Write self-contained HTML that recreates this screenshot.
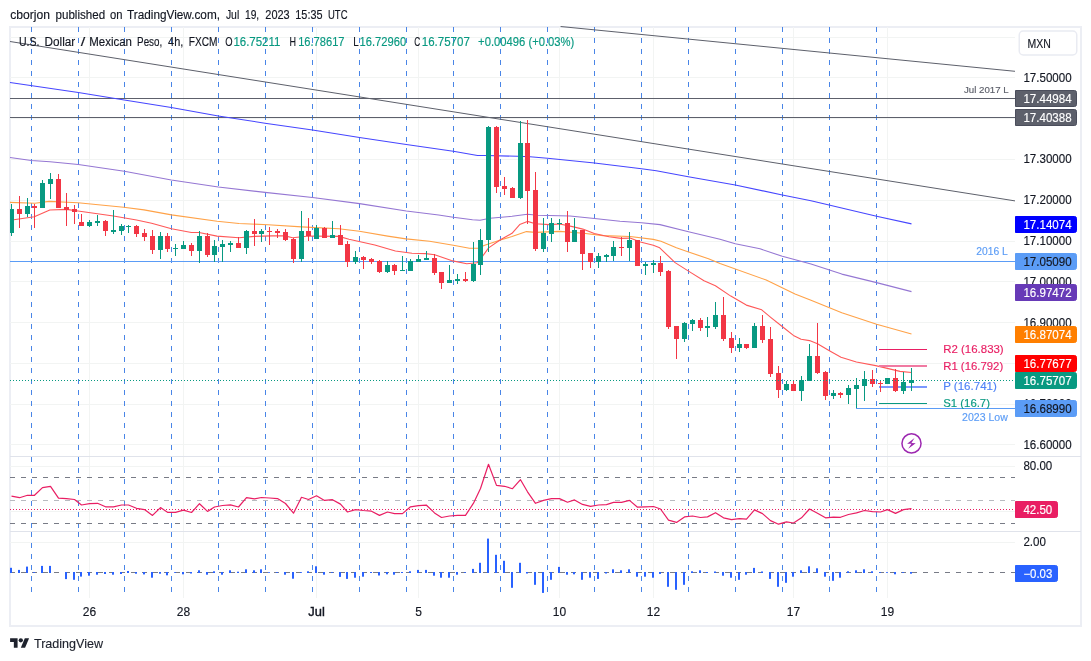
<!DOCTYPE html>
<html lang="en"><head><meta charset="utf-8"><title>USDMXN 4h chart</title>
<style>html,body{margin:0;padding:0;background:#fff}svg{display:block}</style></head>
<body>
<svg width="1091" height="661" viewBox="0 0 1091 661" font-family="'Liberation Sans', Arial, sans-serif">
<rect width="1091" height="661" fill="#ffffff"/>
<rect x="10" y="27" width="1071" height="599" fill="none" stroke="#eceef4" stroke-width="2" shape-rendering="crispEdges"/>
<g stroke="#f2f4f3" stroke-width="1" shape-rendering="crispEdges">
<line x1="10" y1="37.5" x2="1015" y2="37.5"/>
<line x1="10" y1="77.5" x2="1015" y2="77.5"/>
<line x1="10" y1="118.5" x2="1015" y2="118.5"/>
<line x1="10" y1="159.5" x2="1015" y2="159.5"/>
<line x1="10" y1="200.5" x2="1015" y2="200.5"/>
<line x1="10" y1="241.5" x2="1015" y2="241.5"/>
<line x1="10" y1="281.5" x2="1015" y2="281.5"/>
<line x1="10" y1="322.5" x2="1015" y2="322.5"/>
<line x1="10" y1="363.5" x2="1015" y2="363.5"/>
<line x1="10" y1="404.5" x2="1015" y2="404.5"/>
<line x1="10" y1="444.5" x2="1015" y2="444.5"/>
<line x1="10" y1="466.5" x2="1015" y2="466.5"/>
<line x1="10" y1="511.5" x2="1015" y2="511.5"/>
<line x1="10" y1="542.5" x2="1015" y2="542.5"/>
<line x1="89.5" y1="27" x2="89.5" y2="597.5"/>
<line x1="183.5" y1="27" x2="183.5" y2="597.5"/>
<line x1="316.5" y1="27" x2="316.5" y2="597.5"/>
<line x1="418.5" y1="27" x2="418.5" y2="597.5"/>
<line x1="559.5" y1="27" x2="559.5" y2="597.5"/>
<line x1="653.5" y1="27" x2="653.5" y2="597.5"/>
<line x1="793.5" y1="27" x2="793.5" y2="597.5"/>
<line x1="887.5" y1="27" x2="887.5" y2="597.5"/>
</g>
<g stroke="#4985e7" stroke-width="1" stroke-dasharray="5 6" shape-rendering="crispEdges">
<line x1="31.5" y1="27" x2="31.5" y2="456"/>
<line x1="31.5" y1="457" x2="31.5" y2="531"/>
<line x1="31.5" y1="532" x2="31.5" y2="592"/>
<line x1="78.5" y1="27" x2="78.5" y2="456"/>
<line x1="78.5" y1="457" x2="78.5" y2="531"/>
<line x1="78.5" y1="532" x2="78.5" y2="592"/>
<line x1="124.5" y1="27" x2="124.5" y2="456"/>
<line x1="124.5" y1="457" x2="124.5" y2="531"/>
<line x1="124.5" y1="532" x2="124.5" y2="592"/>
<line x1="171.5" y1="27" x2="171.5" y2="456"/>
<line x1="171.5" y1="457" x2="171.5" y2="531"/>
<line x1="171.5" y1="532" x2="171.5" y2="592"/>
<line x1="218.5" y1="27" x2="218.5" y2="456"/>
<line x1="218.5" y1="457" x2="218.5" y2="531"/>
<line x1="218.5" y1="532" x2="218.5" y2="592"/>
<line x1="265.5" y1="27" x2="265.5" y2="456"/>
<line x1="265.5" y1="457" x2="265.5" y2="531"/>
<line x1="265.5" y1="532" x2="265.5" y2="592"/>
<line x1="312.5" y1="27" x2="312.5" y2="456"/>
<line x1="312.5" y1="457" x2="312.5" y2="531"/>
<line x1="312.5" y1="532" x2="312.5" y2="592"/>
<line x1="359.5" y1="27" x2="359.5" y2="456"/>
<line x1="359.5" y1="457" x2="359.5" y2="531"/>
<line x1="359.5" y1="532" x2="359.5" y2="592"/>
<line x1="406.5" y1="27" x2="406.5" y2="456"/>
<line x1="406.5" y1="457" x2="406.5" y2="531"/>
<line x1="406.5" y1="532" x2="406.5" y2="592"/>
<line x1="453.5" y1="27" x2="453.5" y2="456"/>
<line x1="453.5" y1="457" x2="453.5" y2="531"/>
<line x1="453.5" y1="532" x2="453.5" y2="592"/>
<line x1="500.5" y1="27" x2="500.5" y2="456"/>
<line x1="500.5" y1="457" x2="500.5" y2="531"/>
<line x1="500.5" y1="532" x2="500.5" y2="592"/>
<line x1="547.5" y1="27" x2="547.5" y2="456"/>
<line x1="547.5" y1="457" x2="547.5" y2="531"/>
<line x1="547.5" y1="532" x2="547.5" y2="592"/>
<line x1="594.5" y1="27" x2="594.5" y2="456"/>
<line x1="594.5" y1="457" x2="594.5" y2="531"/>
<line x1="594.5" y1="532" x2="594.5" y2="592"/>
<line x1="641.5" y1="27" x2="641.5" y2="456"/>
<line x1="641.5" y1="457" x2="641.5" y2="531"/>
<line x1="641.5" y1="532" x2="641.5" y2="592"/>
<line x1="688.5" y1="27" x2="688.5" y2="456"/>
<line x1="688.5" y1="457" x2="688.5" y2="531"/>
<line x1="688.5" y1="532" x2="688.5" y2="592"/>
<line x1="735.5" y1="27" x2="735.5" y2="456"/>
<line x1="735.5" y1="457" x2="735.5" y2="531"/>
<line x1="735.5" y1="532" x2="735.5" y2="592"/>
<line x1="782.5" y1="27" x2="782.5" y2="456"/>
<line x1="782.5" y1="457" x2="782.5" y2="531"/>
<line x1="782.5" y1="532" x2="782.5" y2="592"/>
<line x1="829.5" y1="27" x2="829.5" y2="456"/>
<line x1="829.5" y1="457" x2="829.5" y2="531"/>
<line x1="829.5" y1="532" x2="829.5" y2="592"/>
<line x1="876.5" y1="27" x2="876.5" y2="456"/>
<line x1="876.5" y1="457" x2="876.5" y2="531"/>
<line x1="876.5" y1="532" x2="876.5" y2="592"/>
</g>
<g stroke="#e0e3eb" stroke-width="1" shape-rendering="crispEdges">
<line x1="10" y1="456.5" x2="1081" y2="456.5"/>
<line x1="10" y1="531.5" x2="1081" y2="531.5"/>
</g>
<g fill="none" stroke-width="1">
<line x1="10" y1="98.5" x2="1015" y2="98.5" stroke="#5d606b" shape-rendering="crispEdges"/>
<line x1="10" y1="117.5" x2="1015" y2="117.5" stroke="#5d606b" shape-rendering="crispEdges"/>
<line x1="10" y1="261.5" x2="1015" y2="261.5" stroke="#5b9cf6" shape-rendering="crispEdges"/>
<line x1="855.5" y1="408.5" x2="1015" y2="408.5" stroke="#5b9cf6" shape-rendering="crispEdges"/>
<line x1="10" y1="41.5" x2="1015" y2="200.9" stroke="#5d606b"/>
<line x1="560.6" y1="26.5" x2="1015" y2="71.3" stroke="#5d606b"/>
</g>
<polyline points="10,82.5 78.3,92.5 124.3,100 171.3,107.5 218.3,116 265,123.2 312.5,130 359.5,137.5 406.3,144.5 453.3,151.3 477.5,155.5 486.3,155.5 517.5,156.3 530,156.8 547.5,158.3 594.5,163 641.5,168.8 656.3,170.8 688.3,176.8 735.3,185 782.3,195 811,200.8 876.6,216.3 911.5,223.9" fill="none" stroke="#4646ff" stroke-width="1.1" stroke-opacity="1" stroke-linejoin="round"/>
<polyline points="10,157.5 31.3,160.5 50,161.8 78.3,164.5 124.3,171.3 171.3,180 218.3,187 265,192.4 312.5,197.5 359.5,203.6 406.3,211 438.6,215 453.3,217.3 472.5,219.8 480,220.2 490,218.2 512.1,216.3 527.4,214.3 537.8,215.2 570,216 594.5,218.5 620,221.2 641.5,222.7 660,224.6 688.5,231.8 720,239.2 735.3,243.8 760,248.8 782.3,256.3 811,264 841.8,274.1 876.6,282.6 911.5,291.6" fill="none" stroke="#9577d3" stroke-width="1.1" stroke-opacity="1" stroke-linejoin="round"/>
<polyline points="10,202.4 35,203.3 49.1,201.4 78,202.7 123.7,207.2 144,209.9 171.5,214.9 217.1,221.3 239,223.5 268,224.8 301.6,226.9 338.8,228.7 359.4,231.2 387.7,236.1 406,238.9 429.6,241.3 453.3,245.2 469.4,248.2 478.4,248.2 484,245.5 500.4,240.1 512,236.5 526.5,231.6 535.5,232.4 559.7,231.4 583.5,233.2 603,235.6 630.1,236.5 653.3,239.4 661,241.3 676.4,247.8 689.3,252.3 708.5,258.7 720,263.6 766.2,280 795,294.1 811,300.3 841.8,312.7 876.6,324.2 911.5,334" fill="none" stroke="#ffa248" stroke-width="1.1" stroke-opacity="1" stroke-linejoin="round"/>
<polyline points="10,220.2 13.8,219.7 34.3,216.8 49.8,210 66.5,209.4 78,211 113.4,216 136.5,220 151.6,223.3 171.5,228.7 191.4,232.5 199,232.5 217,236.1 239,237.7 254.4,236.4 272,235.9 284.9,235.9 292.6,237.7 309,236 338.8,236.4 349,239.3 374.8,245 395.4,251 412,253.3 425.7,253.6 434.7,254.8 451.4,260.6 466.8,263.8 477,262.8 482.4,256.5 488.6,247.9 500.4,239.7 512,233.3 519.7,224.6 527.4,221.4 535.5,223.8 549.4,224.6 559.7,224 572.5,226.6 582.8,229.1 594.3,233.5 609,236.8 621,238.4 630.1,238.1 640.4,242 653.3,245.2 659.7,247.8 675.1,262.6 689.3,271.6 704,280.8 715.4,285.8 730.8,296.1 746.3,305.1 761.7,309.8 770.7,317.3 782.5,326.7 793.4,335.4 801.1,339.3 809.5,340.6 817.5,343.8 829.4,350.8 841,357.3 856.4,362 875.7,365.6 900,371.4 911.5,372.5" fill="none" stroke="#ff5858" stroke-width="1.1" stroke-opacity="1" stroke-linejoin="round"/>
<g shape-rendering="crispEdges">
<rect x="879" y="349" width="48" height="1" fill="#e91e63"/>
<rect x="879" y="365" width="48" height="2" fill="#f07aa2"/>
<rect x="879" y="386" width="48" height="2" fill="#7b98ff"/>
<rect x="879" y="403" width="48" height="1" fill="#089981"/>
</g>
<g shape-rendering="crispEdges">
<rect x="11.0" y="204" width="1" height="32" fill="#089981"/>
<rect x="10" y="209" width="4.0" height="24" fill="#089981"/>
<rect x="19.0" y="196" width="1" height="32" fill="#f23645"/>
<rect x="17.0" y="209" width="5" height="5" fill="#f23645"/>
<rect x="27.0" y="198" width="1" height="19" fill="#089981"/>
<rect x="25.0" y="206" width="5" height="8" fill="#089981"/>
<rect x="34.0" y="204" width="1" height="24" fill="#f23645"/>
<rect x="32.0" y="206" width="5" height="2" fill="#f23645"/>
<rect x="42.0" y="180" width="1" height="28" fill="#089981"/>
<rect x="40.0" y="183" width="5" height="25" fill="#089981"/>
<rect x="50.0" y="173" width="1" height="26" fill="#089981"/>
<rect x="48.0" y="179" width="5" height="5" fill="#089981"/>
<rect x="58.0" y="174" width="1" height="34" fill="#f23645"/>
<rect x="56.0" y="179" width="5" height="29" fill="#f23645"/>
<rect x="66.0" y="193" width="1" height="33" fill="#f23645"/>
<rect x="64.0" y="207" width="5" height="3" fill="#f23645"/>
<rect x="74.0" y="205" width="1" height="19" fill="#f23645"/>
<rect x="72.0" y="209" width="5" height="3" fill="#f23645"/>
<rect x="81.0" y="214" width="1" height="12" fill="#f23645"/>
<rect x="79.0" y="222" width="5" height="4" fill="#f23645"/>
<rect x="89.0" y="220" width="1" height="7" fill="#089981"/>
<rect x="87.0" y="222" width="5" height="4" fill="#089981"/>
<rect x="97.0" y="215" width="1" height="11" fill="#089981"/>
<rect x="95.0" y="221" width="5" height="2" fill="#089981"/>
<rect x="105.0" y="220" width="1" height="16" fill="#f23645"/>
<rect x="103.0" y="221" width="5" height="10" fill="#f23645"/>
<rect x="113.0" y="210" width="1" height="24" fill="#089981"/>
<rect x="111.0" y="230" width="5" height="2" fill="#089981"/>
<rect x="121.0" y="224" width="1" height="11" fill="#089981"/>
<rect x="119.0" y="226" width="5" height="5" fill="#089981"/>
<rect x="128.0" y="225" width="1" height="8" fill="#089981"/>
<rect x="126.0" y="226" width="5" height="1" fill="#089981"/>
<rect x="136.0" y="225" width="1" height="12" fill="#f23645"/>
<rect x="134.0" y="226" width="5" height="8" fill="#f23645"/>
<rect x="144.0" y="229" width="1" height="12" fill="#f23645"/>
<rect x="142.0" y="233" width="5" height="4" fill="#f23645"/>
<rect x="152.0" y="230" width="1" height="24" fill="#f23645"/>
<rect x="150.0" y="236" width="5" height="14" fill="#f23645"/>
<rect x="160.0" y="232" width="1" height="27" fill="#089981"/>
<rect x="158.0" y="236" width="5" height="14" fill="#089981"/>
<rect x="167.0" y="233" width="1" height="19" fill="#f23645"/>
<rect x="165.0" y="236" width="5" height="13" fill="#f23645"/>
<rect x="175.0" y="244" width="1" height="12" fill="#089981"/>
<rect x="173.0" y="248" width="5" height="1" fill="#089981"/>
<rect x="183.0" y="241" width="1" height="8" fill="#089981"/>
<rect x="181.0" y="245" width="5" height="4" fill="#089981"/>
<rect x="191.0" y="243" width="1" height="13" fill="#f23645"/>
<rect x="189.0" y="245" width="5" height="6" fill="#f23645"/>
<rect x="199.0" y="231" width="1" height="32" fill="#089981"/>
<rect x="197.0" y="236" width="5" height="15" fill="#089981"/>
<rect x="207.0" y="233" width="1" height="24" fill="#f23645"/>
<rect x="205.0" y="236" width="5" height="19" fill="#f23645"/>
<rect x="214.0" y="240" width="1" height="22" fill="#089981"/>
<rect x="212.0" y="246" width="5" height="9" fill="#089981"/>
<rect x="222.0" y="240" width="1" height="22" fill="#089981"/>
<rect x="220.0" y="244" width="5" height="3" fill="#089981"/>
<rect x="230.0" y="241" width="1" height="11" fill="#089981"/>
<rect x="228.0" y="243" width="5" height="2" fill="#089981"/>
<rect x="238.0" y="237" width="1" height="11" fill="#f23645"/>
<rect x="236.0" y="243" width="5" height="5" fill="#f23645"/>
<rect x="246.0" y="230" width="1" height="24" fill="#089981"/>
<rect x="244.0" y="231" width="5" height="17" fill="#089981"/>
<rect x="254.0" y="219" width="1" height="27" fill="#f23645"/>
<rect x="252.0" y="231" width="5" height="3" fill="#f23645"/>
<rect x="261.0" y="229" width="1" height="13" fill="#089981"/>
<rect x="259.0" y="231" width="5" height="3" fill="#089981"/>
<rect x="269.0" y="227" width="1" height="18" fill="#f23645"/>
<rect x="267.0" y="231" width="5" height="1" fill="#f23645"/>
<rect x="277.0" y="229" width="1" height="9" fill="#f23645"/>
<rect x="275.0" y="231" width="5" height="2" fill="#f23645"/>
<rect x="285.0" y="229" width="1" height="12" fill="#f23645"/>
<rect x="283.0" y="232" width="5" height="8" fill="#f23645"/>
<rect x="293.0" y="238" width="1" height="25" fill="#f23645"/>
<rect x="291.0" y="239" width="5" height="20" fill="#f23645"/>
<rect x="301.0" y="211" width="1" height="51" fill="#089981"/>
<rect x="299.0" y="231" width="5" height="28" fill="#089981"/>
<rect x="308.0" y="218" width="1" height="23" fill="#f23645"/>
<rect x="306.0" y="231" width="5" height="5" fill="#f23645"/>
<rect x="316.0" y="225" width="1" height="14" fill="#089981"/>
<rect x="314.0" y="228" width="5" height="11" fill="#089981"/>
<rect x="324.0" y="227" width="1" height="11" fill="#f23645"/>
<rect x="322.0" y="228" width="5" height="10" fill="#f23645"/>
<rect x="332.0" y="221" width="1" height="17" fill="#089981"/>
<rect x="330.0" y="235" width="5" height="3" fill="#089981"/>
<rect x="340.0" y="225" width="1" height="20" fill="#f23645"/>
<rect x="338.0" y="235" width="5" height="10" fill="#f23645"/>
<rect x="347.0" y="241" width="1" height="26" fill="#f23645"/>
<rect x="345.0" y="244" width="5" height="18" fill="#f23645"/>
<rect x="355.0" y="251" width="1" height="13" fill="#089981"/>
<rect x="353.0" y="257" width="5" height="5" fill="#089981"/>
<rect x="363.0" y="256" width="1" height="13" fill="#f23645"/>
<rect x="361.0" y="257" width="5" height="3" fill="#f23645"/>
<rect x="371.0" y="258" width="1" height="6" fill="#f23645"/>
<rect x="369.0" y="259" width="5" height="3" fill="#f23645"/>
<rect x="379.0" y="260" width="1" height="13" fill="#f23645"/>
<rect x="377.0" y="261" width="5" height="11" fill="#f23645"/>
<rect x="387.0" y="261" width="1" height="12" fill="#089981"/>
<rect x="385.0" y="265" width="5" height="7" fill="#089981"/>
<rect x="394.0" y="264" width="1" height="11" fill="#f23645"/>
<rect x="392.0" y="265" width="5" height="6" fill="#f23645"/>
<rect x="402.0" y="256" width="1" height="15" fill="#089981"/>
<rect x="400.0" y="270" width="5" height="1" fill="#089981"/>
<rect x="410.0" y="259" width="1" height="12" fill="#089981"/>
<rect x="408.0" y="261" width="5" height="10" fill="#089981"/>
<rect x="418.0" y="255" width="1" height="7" fill="#089981"/>
<rect x="416.0" y="259" width="5" height="3" fill="#089981"/>
<rect x="426.0" y="251" width="1" height="9" fill="#089981"/>
<rect x="424.0" y="258" width="5" height="2" fill="#089981"/>
<rect x="434.0" y="254" width="1" height="21" fill="#f23645"/>
<rect x="432.0" y="258" width="5" height="15" fill="#f23645"/>
<rect x="441.0" y="272" width="1" height="17" fill="#f23645"/>
<rect x="439.0" y="272" width="5" height="11" fill="#f23645"/>
<rect x="449.0" y="265" width="1" height="18" fill="#089981"/>
<rect x="447.0" y="280" width="5" height="3" fill="#089981"/>
<rect x="457.0" y="274" width="1" height="10" fill="#089981"/>
<rect x="455.0" y="279" width="5" height="2" fill="#089981"/>
<rect x="465.0" y="272" width="1" height="10" fill="#f23645"/>
<rect x="463.0" y="279" width="5" height="2" fill="#f23645"/>
<rect x="473.0" y="242" width="1" height="40" fill="#089981"/>
<rect x="471.0" y="264" width="5" height="17" fill="#089981"/>
<rect x="480.0" y="229" width="1" height="46" fill="#089981"/>
<rect x="478.0" y="240" width="5" height="25" fill="#089981"/>
<rect x="488.0" y="126" width="1" height="126" fill="#089981"/>
<rect x="486.0" y="127" width="5" height="113" fill="#089981"/>
<rect x="496.0" y="126" width="1" height="67" fill="#f23645"/>
<rect x="494.0" y="127" width="5" height="60" fill="#f23645"/>
<rect x="504.0" y="177" width="1" height="18" fill="#f23645"/>
<rect x="502.0" y="186" width="5" height="3" fill="#f23645"/>
<rect x="512.0" y="187" width="1" height="11" fill="#f23645"/>
<rect x="510.0" y="188" width="5" height="10" fill="#f23645"/>
<rect x="520.0" y="121" width="1" height="78" fill="#089981"/>
<rect x="518.0" y="143" width="5" height="55" fill="#089981"/>
<rect x="527.0" y="120" width="1" height="104" fill="#f23645"/>
<rect x="525.0" y="143" width="5" height="48" fill="#f23645"/>
<rect x="535.0" y="172" width="1" height="79" fill="#f23645"/>
<rect x="533.0" y="190" width="5" height="59" fill="#f23645"/>
<rect x="543.0" y="218" width="1" height="34" fill="#089981"/>
<rect x="541.0" y="233" width="5" height="16" fill="#089981"/>
<rect x="551.0" y="218" width="1" height="24" fill="#089981"/>
<rect x="549.0" y="223" width="5" height="11" fill="#089981"/>
<rect x="559.0" y="219" width="1" height="11" fill="#089981"/>
<rect x="557.0" y="223" width="5" height="1" fill="#089981"/>
<rect x="567.0" y="211" width="1" height="41" fill="#f23645"/>
<rect x="565.0" y="223" width="5" height="19" fill="#f23645"/>
<rect x="574.0" y="218" width="1" height="24" fill="#089981"/>
<rect x="572.0" y="230" width="5" height="12" fill="#089981"/>
<rect x="582.0" y="230" width="1" height="40" fill="#f23645"/>
<rect x="580.0" y="230" width="5" height="24" fill="#f23645"/>
<rect x="590.0" y="253" width="1" height="15" fill="#f23645"/>
<rect x="588.0" y="253" width="5" height="9" fill="#f23645"/>
<rect x="598.0" y="253" width="1" height="15" fill="#089981"/>
<rect x="596.0" y="256" width="5" height="6" fill="#089981"/>
<rect x="606.0" y="254" width="1" height="8" fill="#089981"/>
<rect x="604.0" y="255" width="5" height="2" fill="#089981"/>
<rect x="613.0" y="241" width="1" height="20" fill="#089981"/>
<rect x="611.0" y="247" width="5" height="9" fill="#089981"/>
<rect x="621.0" y="237" width="1" height="19" fill="#f23645"/>
<rect x="619.0" y="247" width="5" height="1" fill="#f23645"/>
<rect x="629.0" y="232" width="1" height="29" fill="#089981"/>
<rect x="627.0" y="240" width="5" height="8" fill="#089981"/>
<rect x="637.0" y="240" width="1" height="26" fill="#f23645"/>
<rect x="635.0" y="240" width="5" height="26" fill="#f23645"/>
<rect x="645.0" y="262" width="1" height="13" fill="#089981"/>
<rect x="643.0" y="264" width="5" height="2" fill="#089981"/>
<rect x="653.0" y="260" width="1" height="13" fill="#089981"/>
<rect x="651.0" y="263" width="5" height="2" fill="#089981"/>
<rect x="660.0" y="256" width="1" height="20" fill="#f23645"/>
<rect x="658.0" y="263" width="5" height="9" fill="#f23645"/>
<rect x="668.0" y="270" width="1" height="59" fill="#f23645"/>
<rect x="666.0" y="271" width="5" height="56" fill="#f23645"/>
<rect x="676.0" y="326" width="1" height="33" fill="#f23645"/>
<rect x="674.0" y="326" width="5" height="13" fill="#f23645"/>
<rect x="684.0" y="322" width="1" height="20" fill="#089981"/>
<rect x="682.0" y="323" width="5" height="16" fill="#089981"/>
<rect x="692.0" y="319" width="1" height="12" fill="#089981"/>
<rect x="690.0" y="320" width="5" height="4" fill="#089981"/>
<rect x="700.0" y="318" width="1" height="13" fill="#f23645"/>
<rect x="698.0" y="320" width="5" height="8" fill="#f23645"/>
<rect x="707.0" y="317" width="1" height="20" fill="#089981"/>
<rect x="705.0" y="326" width="5" height="2" fill="#089981"/>
<rect x="715.0" y="302" width="1" height="27" fill="#089981"/>
<rect x="713.0" y="315" width="5" height="12" fill="#089981"/>
<rect x="723.0" y="297" width="1" height="44" fill="#f23645"/>
<rect x="721.0" y="315" width="5" height="24" fill="#f23645"/>
<rect x="731.0" y="332" width="1" height="21" fill="#f23645"/>
<rect x="729.0" y="338" width="5" height="10" fill="#f23645"/>
<rect x="739.0" y="338" width="1" height="14" fill="#089981"/>
<rect x="737.0" y="344" width="5" height="4" fill="#089981"/>
<rect x="746.0" y="344" width="1" height="5" fill="#f23645"/>
<rect x="744.0" y="344" width="5" height="4" fill="#f23645"/>
<rect x="754.0" y="323" width="1" height="25" fill="#089981"/>
<rect x="752.0" y="326" width="5" height="22" fill="#089981"/>
<rect x="762.0" y="315" width="1" height="28" fill="#f23645"/>
<rect x="760.0" y="326" width="5" height="14" fill="#f23645"/>
<rect x="770.0" y="327" width="1" height="50" fill="#f23645"/>
<rect x="768.0" y="339" width="5" height="35" fill="#f23645"/>
<rect x="778.0" y="366" width="1" height="32" fill="#f23645"/>
<rect x="776.0" y="373" width="5" height="17" fill="#f23645"/>
<rect x="786.0" y="381" width="1" height="10" fill="#089981"/>
<rect x="784.0" y="384" width="5" height="6" fill="#089981"/>
<rect x="793.0" y="381" width="1" height="10" fill="#f23645"/>
<rect x="791.0" y="384" width="5" height="7" fill="#f23645"/>
<rect x="801.0" y="376" width="1" height="25" fill="#089981"/>
<rect x="799.0" y="380" width="5" height="11" fill="#089981"/>
<rect x="809.0" y="344" width="1" height="37" fill="#089981"/>
<rect x="807.0" y="356" width="5" height="25" fill="#089981"/>
<rect x="817.0" y="323" width="1" height="51" fill="#f23645"/>
<rect x="815.0" y="356" width="5" height="17" fill="#f23645"/>
<rect x="825.0" y="371" width="1" height="29" fill="#f23645"/>
<rect x="823.0" y="372" width="5" height="24" fill="#f23645"/>
<rect x="833.0" y="390" width="1" height="9" fill="#089981"/>
<rect x="831.0" y="393" width="5" height="3" fill="#089981"/>
<rect x="840.0" y="392" width="1" height="6" fill="#f23645"/>
<rect x="838.0" y="393" width="5" height="2" fill="#f23645"/>
<rect x="848.0" y="385" width="1" height="19" fill="#089981"/>
<rect x="846.0" y="388" width="5" height="7" fill="#089981"/>
<rect x="856.0" y="378" width="1" height="30" fill="#089981"/>
<rect x="854.0" y="385" width="5" height="4" fill="#089981"/>
<rect x="864.0" y="371" width="1" height="30" fill="#089981"/>
<rect x="862.0" y="379" width="5" height="7" fill="#089981"/>
<rect x="872.0" y="370" width="1" height="17" fill="#f23645"/>
<rect x="870.0" y="379" width="5" height="5" fill="#f23645"/>
<rect x="880.0" y="381" width="1" height="11" fill="#f23645"/>
<rect x="878.0" y="383" width="5" height="1" fill="#f23645"/>
<rect x="887.0" y="378" width="1" height="6" fill="#089981"/>
<rect x="885.0" y="378" width="5" height="6" fill="#089981"/>
<rect x="895.0" y="369" width="1" height="23" fill="#f23645"/>
<rect x="893.0" y="378" width="5" height="13" fill="#f23645"/>
<rect x="903.0" y="372" width="1" height="22" fill="#089981"/>
<rect x="901.0" y="382" width="5" height="9" fill="#089981"/>
<rect x="911.0" y="368" width="1" height="23" fill="#089981"/>
<rect x="909.0" y="380" width="5" height="3" fill="#089981"/>
</g>
<line x1="10" y1="380.5" x2="1015" y2="380.5" stroke="#089981" stroke-width="1" stroke-dasharray="1 2" shape-rendering="crispEdges"/>
<g stroke-width="1" shape-rendering="crispEdges">
<line x1="10" y1="477.5" x2="1015" y2="477.5" stroke="#787b86" stroke-dasharray="5 6"/>
<line x1="10" y1="500.5" x2="1015" y2="500.5" stroke="#b8bac0" stroke-dasharray="5 6"/>
<line x1="10" y1="523.5" x2="1015" y2="523.5" stroke="#787b86" stroke-dasharray="5 6"/>
<line x1="10" y1="509.5" x2="1015" y2="509.5" stroke="#e91e63" stroke-dasharray="1 2"/>
</g>
<polyline points="11.5,496.2 19.5,497.7 27.5,495.3 34.5,495.3 42.5,487.6 50.5,486.3 58.5,498.2 66.5,498.6 74.5,499.5 81.5,505 89.5,503.7 97.5,503.3 105.5,506.8 113.5,506.8 121.5,505 128.5,505 136.5,508.3 144.5,509.6 152.5,515.4 160.5,507.6 167.5,512.3 175.5,512.3 183.5,510.1 191.5,512.5 199.5,503.7 207.5,511.4 214.5,507 222.5,505.5 230.5,504.8 238.5,507 246.5,497.7 254.5,498.8 261.5,497.5 269.5,498 277.5,498.6 285.5,503.5 293.5,513.2 301.5,497.3 308.5,499.5 316.5,495.8 324.5,500.4 332.5,499.7 340.5,504.1 347.5,512 355.5,509.6 363.5,510.5 371.5,511.2 379.5,515.4 387.5,512 394.5,513.6 402.5,513.6 410.5,506.8 418.5,505.7 426.5,505.2 434.5,512.9 441.5,517.5 449.5,516 457.5,515.4 465.5,515.4 473.5,503.2 480.5,488.5 488.5,464.3 496.5,485.4 504.5,486.3 512.5,488.7 520.5,479.7 527.5,491.8 535.5,503.3 543.5,500.4 551.5,498.6 559.5,498.6 567.5,502.2 574.5,499.9 582.5,504.4 590.5,506.3 598.5,505 606.5,504.6 613.5,502.4 621.5,502.4 629.5,500.4 637.5,507.2 645.5,506.8 653.5,506.5 660.5,509 668.5,520.2 676.5,522.4 684.5,516.9 692.5,516 700.5,517.5 707.5,516.9 715.5,512.7 723.5,517.8 731.5,519.7 739.5,518.6 746.5,519.1 754.5,509.9 762.5,513.6 770.5,520.6 778.5,524.2 786.5,521.9 793.5,523 801.5,517.8 809.5,509 817.5,513.2 825.5,517.8 833.5,517.1 840.5,517.3 848.5,514.5 856.5,512.9 864.5,510.5 872.5,511.6 880.5,512 887.5,509.6 895.5,513.4 903.5,509.6 911.5,508.7" fill="none" stroke="#e91e63" stroke-width="1.2" stroke-opacity="1" stroke-linejoin="round"/>
<line x1="10" y1="572.5" x2="1015" y2="572.5" stroke="#787b86" stroke-width="1" stroke-dasharray="5 6" shape-rendering="crispEdges"/>
<g fill="#2962ff">
<rect x="10.0" y="567.8" width="2" height="5.2"/>
<rect x="18.0" y="569.9" width="2" height="3.1"/>
<rect x="26.0" y="566.6" width="2" height="6.4"/>
<rect x="33.0" y="572.2" width="2" height="0.8"/>
<rect x="41.0" y="565.9" width="2" height="7.1"/>
<rect x="49.0" y="565.9" width="2" height="7.1"/>
<rect x="65.0" y="572" width="2" height="7.1"/>
<rect x="73.0" y="572" width="2" height="7.8"/>
<rect x="80.0" y="572" width="2" height="4.6"/>
<rect x="88.0" y="572" width="2" height="3.7"/>
<rect x="96.0" y="572" width="2" height="2.7"/>
<rect x="104.0" y="572" width="2" height="2.0"/>
<rect x="112.0" y="572" width="2" height="2.7"/>
<rect x="120.0" y="572" width="2" height="2.0"/>
<rect x="127.0" y="571.0" width="2" height="2.0"/>
<rect x="135.0" y="572" width="2" height="1.7"/>
<rect x="143.0" y="572" width="2" height="2.4"/>
<rect x="151.0" y="572" width="2" height="5.7"/>
<rect x="159.0" y="572" width="2" height="1.7"/>
<rect x="166.0" y="572" width="2" height="3.3"/>
<rect x="174.0" y="572" width="2" height="0.8"/>
<rect x="182.0" y="572" width="2" height="2.3"/>
<rect x="190.0" y="572" width="2" height="1.5"/>
<rect x="198.0" y="570.3" width="2" height="2.7"/>
<rect x="206.0" y="572" width="2" height="2.7"/>
<rect x="213.0" y="571.3" width="2" height="1.7"/>
<rect x="221.0" y="572" width="2" height="2.7"/>
<rect x="229.0" y="570.3" width="2" height="2.7"/>
<rect x="237.0" y="571.7" width="2" height="1.3"/>
<rect x="245.0" y="569.3" width="2" height="3.7"/>
<rect x="253.0" y="570.3" width="2" height="2.7"/>
<rect x="260.0" y="569.3" width="2" height="3.7"/>
<rect x="268.0" y="572.2" width="2" height="0.8"/>
<rect x="276.0" y="572" width="2" height="0.8"/>
<rect x="284.0" y="572" width="2" height="2.7"/>
<rect x="292.0" y="572" width="2" height="6.7"/>
<rect x="300.0" y="572.2" width="2" height="0.8"/>
<rect x="307.0" y="571.3" width="2" height="1.7"/>
<rect x="315.0" y="566.3" width="2" height="6.7"/>
<rect x="323.0" y="572" width="2" height="2.7"/>
<rect x="331.0" y="572" width="2" height="0.8"/>
<rect x="339.0" y="572" width="2" height="4.9"/>
<rect x="346.0" y="572" width="2" height="6.9"/>
<rect x="354.0" y="572" width="2" height="5.7"/>
<rect x="362.0" y="572" width="2" height="4.7"/>
<rect x="370.0" y="572" width="2" height="1.0"/>
<rect x="378.0" y="572" width="2" height="3.5"/>
<rect x="386.0" y="572" width="2" height="2.3"/>
<rect x="393.0" y="572" width="2" height="2.7"/>
<rect x="401.0" y="572" width="2" height="1.0"/>
<rect x="409.0" y="571.3" width="2" height="1.7"/>
<rect x="417.0" y="569.9" width="2" height="3.1"/>
<rect x="425.0" y="569.9" width="2" height="3.1"/>
<rect x="433.0" y="572" width="2" height="3.7"/>
<rect x="440.0" y="572" width="2" height="5.7"/>
<rect x="448.0" y="572" width="2" height="5.7"/>
<rect x="456.0" y="572" width="2" height="2.7"/>
<rect x="464.0" y="572" width="2" height="0.8"/>
<rect x="472.0" y="568.9" width="2" height="4.1"/>
<rect x="479.0" y="562.8" width="2" height="10.2"/>
<rect x="487.0" y="538.6" width="2" height="34.4"/>
<rect x="495.0" y="554.8" width="2" height="18.2"/>
<rect x="503.0" y="560.8" width="2" height="12.2"/>
<rect x="511.0" y="572" width="2" height="15.8"/>
<rect x="519.0" y="562.8" width="2" height="10.2"/>
<rect x="526.0" y="572" width="2" height="1.5"/>
<rect x="534.0" y="572" width="2" height="12.8"/>
<rect x="542.0" y="572" width="2" height="20.9"/>
<rect x="550.0" y="572" width="2" height="7.8"/>
<rect x="558.0" y="566.9" width="2" height="6.1"/>
<rect x="566.0" y="572" width="2" height="2.7"/>
<rect x="573.0" y="572" width="2" height="2.3"/>
<rect x="581.0" y="572" width="2" height="7.8"/>
<rect x="589.0" y="572" width="2" height="5.7"/>
<rect x="597.0" y="572" width="2" height="6.9"/>
<rect x="605.0" y="572" width="2" height="1.5"/>
<rect x="612.0" y="569.3" width="2" height="3.7"/>
<rect x="620.0" y="570.3" width="2" height="2.7"/>
<rect x="628.0" y="569.3" width="2" height="3.7"/>
<rect x="636.0" y="572" width="2" height="4.7"/>
<rect x="644.0" y="572" width="2" height="4.7"/>
<rect x="652.0" y="572" width="2" height="5.7"/>
<rect x="659.0" y="572" width="2" height="1.9"/>
<rect x="667.0" y="572" width="2" height="14.8"/>
<rect x="675.0" y="572" width="2" height="17.8"/>
<rect x="683.0" y="572" width="2" height="12.8"/>
<rect x="691.0" y="571.3" width="2" height="1.7"/>
<rect x="699.0" y="570.3" width="2" height="2.7"/>
<rect x="706.0" y="572.0" width="2" height="1.0"/>
<rect x="714.0" y="571.5" width="2" height="1.5"/>
<rect x="722.0" y="572" width="2" height="3.7"/>
<rect x="730.0" y="572" width="2" height="5.7"/>
<rect x="738.0" y="572" width="2" height="7.8"/>
<rect x="745.0" y="572" width="2" height="2.7"/>
<rect x="753.0" y="567.9" width="2" height="5.1"/>
<rect x="761.0" y="571.5" width="2" height="1.5"/>
<rect x="769.0" y="572" width="2" height="6.9"/>
<rect x="777.0" y="572" width="2" height="14.8"/>
<rect x="785.0" y="572" width="2" height="10.8"/>
<rect x="792.0" y="572" width="2" height="4.7"/>
<rect x="800.0" y="570.3" width="2" height="2.7"/>
<rect x="808.0" y="566.3" width="2" height="6.7"/>
<rect x="816.0" y="568.3" width="2" height="4.7"/>
<rect x="824.0" y="572" width="2" height="4.7"/>
<rect x="832.0" y="572" width="2" height="8.8"/>
<rect x="839.0" y="572" width="2" height="5.7"/>
<rect x="847.0" y="571.3" width="2" height="1.7"/>
<rect x="855.0" y="570.3" width="2" height="2.7"/>
<rect x="863.0" y="569.3" width="2" height="3.7"/>
<rect x="871.0" y="571.3" width="2" height="1.7"/>
<rect x="879.0" y="572.2" width="2" height="0.8"/>
<rect x="886.0" y="572" width="2" height="0.8"/>
<rect x="894.0" y="572" width="2" height="2.3"/>
<rect x="902.0" y="572" width="2" height="0.8"/>
<rect x="910.0" y="572" width="2" height="1.7"/>
</g>
<text x="1023.4" y="81.8" font-size="12" fill="#131722" stroke="#131722" stroke-width="0.15" textLength="48.2" lengthAdjust="spacingAndGlyphs">17.50000</text>
<text x="1023.4" y="163.3" font-size="12" fill="#131722" stroke="#131722" stroke-width="0.15" textLength="48.2" lengthAdjust="spacingAndGlyphs">17.30000</text>
<text x="1023.4" y="203.9" font-size="12" fill="#131722" stroke="#131722" stroke-width="0.15" textLength="48.2" lengthAdjust="spacingAndGlyphs">17.20000</text>
<text x="1023.4" y="245.0" font-size="12" fill="#131722" stroke="#131722" stroke-width="0.15" textLength="48.2" lengthAdjust="spacingAndGlyphs">17.10000</text>
<text x="1023.4" y="285.8" font-size="12" fill="#131722" stroke="#131722" stroke-width="0.15" textLength="48.2" lengthAdjust="spacingAndGlyphs">17.00000</text>
<text x="1023.4" y="326.7" font-size="12" fill="#131722" stroke="#131722" stroke-width="0.15" textLength="48.2" lengthAdjust="spacingAndGlyphs">16.90000</text>
<text x="1023.4" y="407.7" font-size="12" fill="#131722" stroke="#131722" stroke-width="0.15" textLength="48.2" lengthAdjust="spacingAndGlyphs">16.70000</text>
<text x="1023.4" y="449.0" font-size="12" fill="#131722" stroke="#131722" stroke-width="0.15" textLength="48.2" lengthAdjust="spacingAndGlyphs">16.60000</text>
<text x="1023.4" y="469.6" font-size="12" fill="#131722" stroke="#131722" stroke-width="0.15" textLength="28.9" lengthAdjust="spacingAndGlyphs">80.00</text>
<text x="1023.4" y="545.7" font-size="12" fill="#131722" stroke="#131722" stroke-width="0.15" textLength="22.5" lengthAdjust="spacingAndGlyphs">2.00</text>
<path d="M1015.5 90.5H1074.5Q1076.5 90.5 1076.5 92.5V104.5Q1076.5 106.5 1074.5 106.5H1015.5Z" fill="#5d606b" stroke="#4b4e5c" stroke-width="1"/>
<text x="1023.4" y="102.6" font-size="12" fill="#ffffff" stroke="#ffffff" stroke-width="0.15" textLength="48.2" lengthAdjust="spacingAndGlyphs">17.44984</text>
<path d="M1015.5 109.5H1074.5Q1076.5 109.5 1076.5 111.5V123.5Q1076.5 125.5 1074.5 125.5H1015.5Z" fill="#5d606b" stroke="#4b4e5c" stroke-width="1"/>
<text x="1023.4" y="121.6" font-size="12" fill="#ffffff" stroke="#ffffff" stroke-width="0.15" textLength="48.2" lengthAdjust="spacingAndGlyphs">17.40388</text>
<path d="M1015.5 216.5H1074.5Q1076.5 216.5 1076.5 218.5V230.5Q1076.5 232.5 1074.5 232.5H1015.5Z" fill="#0000ff" stroke="#0000ff" stroke-width="1"/>
<text x="1023.4" y="228.6" font-size="12" fill="#ffffff" stroke="#ffffff" stroke-width="0.15" textLength="48.2" lengthAdjust="spacingAndGlyphs">17.14074</text>
<path d="M1015.5 253.5H1074.5Q1076.5 253.5 1076.5 255.5V267.5Q1076.5 269.5 1074.5 269.5H1015.5Z" fill="#5b9cf6" stroke="#5b9cf6" stroke-width="1"/>
<text x="1023.4" y="265.6" font-size="12" fill="#131722" stroke="#131722" stroke-width="0.15" textLength="48.2" lengthAdjust="spacingAndGlyphs">17.05090</text>
<path d="M1015.5 284.5H1074.5Q1076.5 284.5 1076.5 286.5V298.5Q1076.5 300.5 1074.5 300.5H1015.5Z" fill="#673ab7" stroke="#673ab7" stroke-width="1"/>
<text x="1023.4" y="296.6" font-size="12" fill="#ffffff" stroke="#ffffff" stroke-width="0.15" textLength="48.2" lengthAdjust="spacingAndGlyphs">16.97472</text>
<path d="M1015.5 326.5H1074.5Q1076.5 326.5 1076.5 328.5V340.5Q1076.5 342.5 1074.5 342.5H1015.5Z" fill="#ff7f00" stroke="#ff7f00" stroke-width="1"/>
<text x="1023.4" y="338.6" font-size="12" fill="#ffffff" stroke="#ffffff" stroke-width="0.15" textLength="48.2" lengthAdjust="spacingAndGlyphs">16.87074</text>
<path d="M1015.5 355.5H1074.5Q1076.5 355.5 1076.5 357.5V369.5Q1076.5 371.5 1074.5 371.5H1015.5Z" fill="#ff0000" stroke="#ff0000" stroke-width="1"/>
<text x="1023.4" y="367.6" font-size="12" fill="#ffffff" stroke="#ffffff" stroke-width="0.15" textLength="48.2" lengthAdjust="spacingAndGlyphs">16.77677</text>
<path d="M1015.5 372.5H1074.5Q1076.5 372.5 1076.5 374.5V386.5Q1076.5 388.5 1074.5 388.5H1015.5Z" fill="#089981" stroke="#089981" stroke-width="1"/>
<text x="1023.4" y="384.6" font-size="12" fill="#ffffff" stroke="#ffffff" stroke-width="0.15" textLength="48.2" lengthAdjust="spacingAndGlyphs">16.75707</text>
<path d="M1015.5 400.5H1074.5Q1076.5 400.5 1076.5 402.5V414.5Q1076.5 416.5 1074.5 416.5H1015.5Z" fill="#5b9cf6" stroke="#5b9cf6" stroke-width="1"/>
<text x="1023.4" y="412.6" font-size="12" fill="#131722" stroke="#131722" stroke-width="0.15" textLength="48.2" lengthAdjust="spacingAndGlyphs">16.68990</text>
<path d="M1015.5 501.5H1055.5Q1057.5 501.5 1057.5 503.5V515.5Q1057.5 517.5 1055.5 517.5H1015.5Z" fill="#e91e63" stroke="#e91e63" stroke-width="1"/>
<text x="1023.4" y="513.6" font-size="12" fill="#ffffff" stroke="#ffffff" stroke-width="0.15" textLength="28.9" lengthAdjust="spacingAndGlyphs">42.50</text>
<path d="M1015.5 565.5H1055.5Q1057.5 565.5 1057.5 567.5V579.5Q1057.5 581.5 1055.5 581.5H1015.5Z" fill="#2962ff" stroke="#2962ff" stroke-width="1"/>
<text x="1023.4" y="577.6" font-size="12" fill="#ffffff" stroke="#ffffff" stroke-width="0.15" textLength="28.9" lengthAdjust="spacingAndGlyphs">−0.03</text>
<rect x="1019.25" y="31" width="57.5" height="24" rx="4" ry="4" fill="#ffffff" stroke="#e9ebf2" stroke-width="1.5"/>
<text x="1027.6" y="47.9" font-size="12" fill="#131722" stroke="#131722" stroke-width="0.15" textLength="23.3" lengthAdjust="spacingAndGlyphs">MXN</text>
<text x="964" y="92.8" font-size="9.5" fill="#5d606b" stroke="#5d606b" stroke-width="0.15" textLength="44.7" lengthAdjust="spacingAndGlyphs">Jul 2017 L</text>
<text x="976.2" y="254.7" font-size="11" fill="#5b9cf6" stroke="#5b9cf6" stroke-width="0.15" textLength="31.6" lengthAdjust="spacingAndGlyphs">2016 L</text>
<text x="962.1" y="420.5" font-size="11" fill="#5b9cf6" stroke="#5b9cf6" stroke-width="0.15" textLength="45.7" lengthAdjust="spacingAndGlyphs">2023 Low</text>
<text x="943.2" y="352.6" font-size="11.3" fill="#e91e63" stroke="#e91e63" stroke-width="0.15" textLength="60.5" lengthAdjust="spacingAndGlyphs">R2 (16.833)</text>
<text x="943.2" y="369.6" font-size="11.3" fill="#e91e63" stroke="#e91e63" stroke-width="0.15" textLength="60.0" lengthAdjust="spacingAndGlyphs">R1 (16.792)</text>
<text x="943.2" y="390.1" font-size="11.3" fill="#4f83f7" stroke="#4f83f7" stroke-width="0.15" textLength="53.6" lengthAdjust="spacingAndGlyphs">P (16.741)</text>
<text x="943.2" y="407.0" font-size="11.3" fill="#089981" stroke="#089981" stroke-width="0.15" textLength="46.8" lengthAdjust="spacingAndGlyphs">S1 (16.7)</text>
<circle cx="911.5" cy="443.4" r="11.8" fill="#ffffff"/>
<circle cx="911.5" cy="443.4" r="9.55" fill="none" stroke="#9c27b0" stroke-width="1.5"/>
<path d="M914.5 438 L907.1 443.65 L911.5 443.85 L908.2 448.8 L915.7 443.3 L911.4 443 Z" fill="#9c27b0"/>
<text x="89.5" y="615.8" font-size="12" fill="#131722" stroke="#131722" stroke-width="0.15" text-anchor="middle">26</text>
<text x="183.5" y="615.8" font-size="12" fill="#131722" stroke="#131722" stroke-width="0.15" text-anchor="middle">28</text>
<text x="316.5" y="615.8" font-size="12" fill="#131722" stroke="#131722" stroke-width="0.15" text-anchor="middle" textLength="16.5" lengthAdjust="spacingAndGlyphs" style="stroke-width:0.4">Jul</text>
<text x="418.5" y="615.8" font-size="12" fill="#131722" stroke="#131722" stroke-width="0.15" text-anchor="middle">5</text>
<text x="559.5" y="615.8" font-size="12" fill="#131722" stroke="#131722" stroke-width="0.15" text-anchor="middle">10</text>
<text x="653.5" y="615.8" font-size="12" fill="#131722" stroke="#131722" stroke-width="0.15" text-anchor="middle">12</text>
<text x="793.5" y="615.8" font-size="12" fill="#131722" stroke="#131722" stroke-width="0.15" text-anchor="middle">17</text>
<text x="887.5" y="615.8" font-size="12" fill="#131722" stroke="#131722" stroke-width="0.15" text-anchor="middle">19</text>
<text x="10.3" y="18.7" font-size="12" fill="#131722" stroke="#131722" stroke-width="0.15" textLength="39.7" lengthAdjust="spacingAndGlyphs">cborjon</text>
<text x="55.5" y="18.7" font-size="12" fill="#131722" stroke="#131722" stroke-width="0.15" textLength="49.6" lengthAdjust="spacingAndGlyphs">published</text>
<text x="110.1" y="18.7" font-size="12" fill="#131722" stroke="#131722" stroke-width="0.15" textLength="12.5" lengthAdjust="spacingAndGlyphs">on</text>
<text x="127.1" y="18.7" font-size="12" fill="#131722" stroke="#131722" stroke-width="0.15" textLength="92.9" lengthAdjust="spacingAndGlyphs">TradingView.com,</text>
<text x="225.9" y="18.7" font-size="12" fill="#131722" stroke="#131722" stroke-width="0.15" textLength="13.3" lengthAdjust="spacingAndGlyphs">Jul</text>
<text x="245" y="18.7" font-size="12" fill="#131722" stroke="#131722" stroke-width="0.15" textLength="14.2" lengthAdjust="spacingAndGlyphs">19,</text>
<text x="265.3" y="18.7" font-size="12" fill="#131722" stroke="#131722" stroke-width="0.15" textLength="24.4" lengthAdjust="spacingAndGlyphs">2023</text>
<text x="295.3" y="18.7" font-size="12" fill="#131722" stroke="#131722" stroke-width="0.15" textLength="27.2" lengthAdjust="spacingAndGlyphs">15:35</text>
<text x="328" y="18.7" font-size="12" fill="#131722" stroke="#131722" stroke-width="0.15" textLength="19.5" lengthAdjust="spacingAndGlyphs">UTC</text>
<text x="18.9" y="45.5" font-size="12" fill="#131722" stroke="#131722" stroke-width="0.15" textLength="20.5" lengthAdjust="spacingAndGlyphs">U.S.</text>
<text x="44.5" y="45.5" font-size="12" fill="#131722" stroke="#131722" stroke-width="0.15" textLength="30.7" lengthAdjust="spacingAndGlyphs">Dollar</text>
<text x="80.7" y="45.5" font-size="12" fill="#131722" stroke="#131722" stroke-width="0.15" textLength="4.5" lengthAdjust="spacingAndGlyphs">/</text>
<text x="89.3" y="45.5" font-size="12" fill="#131722" stroke="#131722" stroke-width="0.15" textLength="42.7" lengthAdjust="spacingAndGlyphs">Mexican</text>
<text x="137.1" y="45.5" font-size="12" fill="#131722" stroke="#131722" stroke-width="0.15" textLength="25.1" lengthAdjust="spacingAndGlyphs">Peso,</text>
<text x="168.1" y="45.5" font-size="12" fill="#131722" stroke="#131722" stroke-width="0.15" textLength="15.2" lengthAdjust="spacingAndGlyphs">4h,</text>
<text x="188.8" y="45.5" font-size="12" fill="#131722" stroke="#131722" stroke-width="0.15" textLength="28.7" lengthAdjust="spacingAndGlyphs">FXCM</text>
<text x="225.2" y="45.5" font-size="12" fill="#131722" stroke="#131722" stroke-width="0.15" textLength="7.3" lengthAdjust="spacingAndGlyphs">O</text>
<text x="233.4" y="45.5" font-size="12" fill="#089981" stroke="#089981" stroke-width="0.15" textLength="47" lengthAdjust="spacingAndGlyphs">16.75211</text>
<text x="289.5" y="45.5" font-size="12" fill="#131722" stroke="#131722" stroke-width="0.15" textLength="6.5" lengthAdjust="spacingAndGlyphs">H</text>
<text x="298.2" y="45.5" font-size="12" fill="#089981" stroke="#089981" stroke-width="0.15" textLength="46.3" lengthAdjust="spacingAndGlyphs">16.78617</text>
<text x="353.2" y="45.5" font-size="12" fill="#131722" stroke="#131722" stroke-width="0.15" textLength="5.5" lengthAdjust="spacingAndGlyphs">L</text>
<text x="359.6" y="45.5" font-size="12" fill="#089981" stroke="#089981" stroke-width="0.15" textLength="46.6" lengthAdjust="spacingAndGlyphs">16.72960</text>
<text x="414.3" y="45.5" font-size="12" fill="#131722" stroke="#131722" stroke-width="0.15" textLength="6" lengthAdjust="spacingAndGlyphs">C</text>
<text x="421.8" y="45.5" font-size="12" fill="#089981" stroke="#089981" stroke-width="0.15" textLength="48" lengthAdjust="spacingAndGlyphs">16.75707</text>
<text x="478.1" y="45.5" font-size="12" fill="#089981" stroke="#089981" stroke-width="0.15" textLength="96.2" lengthAdjust="spacingAndGlyphs">+0.00496 (+0.03%)</text>
<g transform="translate(10.1,636) scale(0.535)" fill="#1e222d"><path d="M14 22H7V11H0V4h14v18z"/><circle cx="20" cy="8" r="4"/><path d="M28 22h-8l7.5-18h8L28 22z"/></g>
<text x="34" y="647.6" font-size="13" fill="#1e222d" stroke="#1e222d" stroke-width="0.15" textLength="69" lengthAdjust="spacingAndGlyphs">TradingView</text>
</svg>
</body></html>
